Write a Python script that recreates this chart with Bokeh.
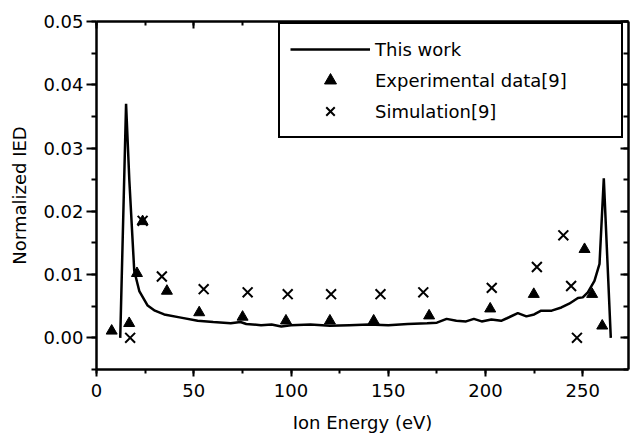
from bokeh.plotting import figure
from bokeh.models import (LinearAxis, SingleIntervalTicker, PrintfTickFormatter,
                          CustomJSTickFormatter, Range1d)
from bokeh.embed import file_html
from bokeh.resources import INLINE

# "This work" curve
work_x = [12.2, 15.2, 16.9, 19.4, 22.0, 26.3, 30.0, 34.8, 43.4, 52.0, 60.0, 69.0, 74.0,
          77.0, 84.6, 90.0, 95.0, 100.0, 110.0, 120.0, 130.0, 140.0, 150.0, 160.0,
          170.0, 175.0, 180.0, 185.0, 190.0, 194.0, 198.0, 203.0, 208.0, 211.0,
          216.6, 221.0, 225.0, 228.6, 234.0, 239.0, 243.0, 247.5, 250.0, 252.6,
          256.0, 258.6, 260.8, 264.4]
work_y = [0.0, 0.037, 0.0248, 0.0106, 0.0074, 0.0051, 0.0043, 0.0037, 0.0032, 0.0027,
          0.0025, 0.0023, 0.0025, 0.0022, 0.0020, 0.0021, 0.0018, 0.0020, 0.0021,
          0.0019, 0.0020, 0.0021, 0.0020, 0.0022, 0.0023, 0.0024, 0.0030, 0.0027,
          0.0026, 0.0030, 0.0026, 0.0029, 0.0027, 0.0031, 0.0039, 0.0034, 0.0037,
          0.0043, 0.0043, 0.0048, 0.0054, 0.0063, 0.0064, 0.0072, 0.0090, 0.0117,
          0.0252, 0.0]

# Experimental data [9]
exp_x = [7.8, 16.8, 20.8, 23.7, 36.2, 52.8, 75.1, 97.4, 120.0, 142.5, 171.0,
         202.4, 224.8, 250.9, 254.8, 260.0]
exp_y = [0.0011, 0.0023, 0.0102, 0.0184, 0.0074, 0.0040, 0.0033, 0.0027, 0.0027,
         0.0027, 0.0035, 0.0046, 0.0069, 0.0140, 0.0069, 0.0019]

# Simulation [9]
sim_x = [17.3, 23.7, 33.6, 55.1, 77.7, 98.3, 120.6, 146.0, 168.0, 203.2, 226.4,
         240.0, 244.0, 247.0]
sim_y = [0.0, 0.0185, 0.0097, 0.0077, 0.0072, 0.0069, 0.0069, 0.0069, 0.0072,
         0.0079, 0.0112, 0.0162, 0.0082, 0.0]

FONT = "DejaVu Sans"
FS = "18px"

p = figure(width=630, height=435, output_backend="svg", toolbar_location=None,
           x_range=Range1d(0, 273.5), y_range=Range1d(-0.005, 0.05),
           min_border_left=96, min_border_right=2, min_border_top=21,
           min_border_bottom=66, x_axis_type=None, y_axis_type=None)
p.outline_line_color = None
p.background_fill_color = "white"
p.border_fill_color = "white"


def style_axis(ax, tick_in, tick_out, minor_in, minor_out, labels=True):
    ax.axis_line_width = 2.5
    ax.axis_line_color = "black"
    ax.axis_line_alpha = 1
    ax.major_tick_line_width = 2
    ax.minor_tick_line_width = 2
    ax.major_tick_line_color = "black"
    ax.minor_tick_line_color = "black"
    ax.major_tick_in = tick_in
    ax.major_tick_out = tick_out
    ax.minor_tick_in = minor_in
    ax.minor_tick_out = minor_out
    if labels:
        ax.major_label_text_font = FONT
        ax.major_label_text_font_size = FS
        ax.major_label_text_color = "black"
        ax.axis_label_text_font = FONT
        ax.axis_label_text_font_size = FS
        ax.axis_label_text_font_style = "normal"
        ax.axis_label_text_color = "black"
    else:
        ax.formatter = CustomJSTickFormatter(code="return ''")
        ax.major_label_text_font_size = "0px"
        ax.major_label_standoff = 0


xt = SingleIntervalTicker(interval=50, num_minor_ticks=2)
yt = SingleIntervalTicker(interval=0.01, num_minor_ticks=2)

bottom = LinearAxis(ticker=xt, axis_label="Ion Energy (eV)")
style_axis(bottom, 0, 7, 0, 4)
bottom.major_label_standoff = 7
bottom.axis_label_standoff = 12
p.add_layout(bottom, "below")

left = LinearAxis(ticker=yt, formatter=PrintfTickFormatter(format="%.2f"),
                  axis_label="Normalized IED")
style_axis(left, 0, 10, 0, 5)
left.major_label_standoff = 3
left.axis_label_standoff = 10
p.add_layout(left, "left")

top = LinearAxis(ticker=SingleIntervalTicker(interval=50, num_minor_ticks=2))
style_axis(top, 7, 0, 4, 0, labels=False)
p.add_layout(top, "above")

right = LinearAxis(ticker=SingleIntervalTicker(interval=0.01, num_minor_ticks=2))
style_axis(right, 8, 0, 5, 0, labels=False)
p.add_layout(right, "right")

p.line(work_x, work_y, line_color="black", line_width=2.5, legend_label="This work")
p.scatter(exp_x, exp_y, marker="triangle", size=11, fill_color="black",
          line_color="black", legend_label="Experimental data[9]")
p.scatter(sim_x, sim_y, marker="x", size=14, line_color="black", line_width=2,
          legend_label="Simulation[9]")

lg = p.legend[0]
lg.location = (182, 231)
lg.border_line_color = "black"
lg.border_line_width = 2
lg.border_line_alpha = 1
lg.background_fill_color = "white"
lg.background_fill_alpha = 1
lg.label_text_font = FONT
lg.label_text_font_size = FS
lg.label_text_color = "black"
lg.padding = 10
lg.spacing = 1
lg.glyph_width = 80
lg.glyph_height = 30
lg.label_standoff = 5
lg.label_width = 236
lg.margin = 0

open("out.html", "w").write(file_html(p, INLINE))
